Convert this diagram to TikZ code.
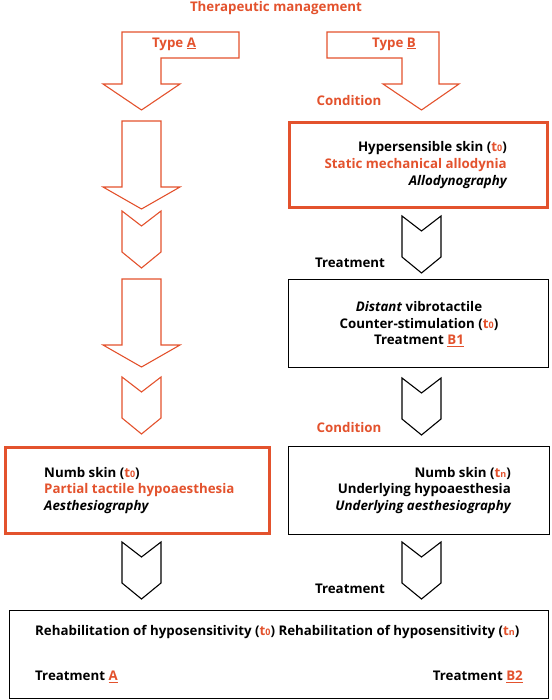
\documentclass[tikz,border=0pt]{standalone}
\usepackage{fontspec}
\setmainfont{Open Sans}
\definecolor{myred}{RGB}{227,82,45}
\newcommand\tz[1]{{\color{myred}t{\fontsize{9}{9}\selectfont #1}}}
\newcommand\ru[1]{{\color{myred}\underline{#1}}}
\newcommand\mychev[3]{%
  \draw[#3] (#1-19.5,#2) -- (#1,#2+15) -- (#1+19.5,#2) -- (#1+19.5,#2+41) -- (#1,#2+57) -- (#1-19.5,#2+41) -- cycle;}
\newcommand\mybig[4]{%
  \draw[#4] (#1-19.5,#2) -- (#1+19.5,#2) -- (#1+19.5,#3) -- (#1+38.5,#3) -- (#1,#3+22) -- (#1-38.5,#3) -- (#1-19.5,#3) -- cycle;}
\begin{document}
\begin{tikzpicture}[x=1pt,y=-1pt,
  redarrow/.style={draw=myred, line width=1.1pt, line join=miter},
  blackarrow/.style={draw=black, line width=1.1pt, line join=miter},
  redbox/.style={draw=myred, line width=3pt, inner sep=0pt},
  blackbox/.style={draw=black, line width=1.4pt, inner sep=0pt},
  txt/.style={font=\fontsize{13.3}{16.8}\selectfont\bfseries, inner sep=0pt},
  lbl/.style={txt, text=myred}]
\useasboundingbox (0,0) rectangle (551,700);

% title and type arrows
\node[lbl] (title) at (276,8) {Therapeutic management};
\draw[redarrow] (122,32) -- (239,32) -- (239,58) -- (161,58) -- (161,84) -- (180,84) -- (141.5,110) -- (103,84) -- (122,84) -- cycle;
\draw[redarrow] (327,32) -- (439,32) -- (439,84) -- (459,84) -- (421.5,110) -- (383,84) -- (402,84) -- (402,58) -- (327,58) -- cycle;
\node[lbl] (typeA) at (174,44) {Type \underline{A}};
\node[lbl] (typeB) at (394,44) {Type \underline{B}};
\node[lbl] (cond1) at (349,101) {Condition};

% boxes
\node[redbox, minimum width=258pt, minimum height=85pt] (hyper) at (418.5,165) {};
\node[blackbox, minimum width=259.6pt, minimum height=87.6pt] (distant) at (418.5,323.5) {};
\node[redbox, minimum width=264pt, minimum height=86pt] (numbA) at (137.5,490.5) {};
\node[blackbox, minimum width=260.6pt, minimum height=87.6pt] (numbB) at (419,490.5) {};
\node[blackbox, minimum width=538.6pt, minimum height=87.6pt] (rehab) at (279,654.5) {};

% box texts
\node[txt, align=right, anchor=east] (hyperT) at (507,165)
  {Hypersensible skin (\tz{0})\\ {\color{myred}Static mechanical allodynia}\\ \itshape Allodynography};
\node[txt, align=center] (distantT) at (419,324)
  {\textit{Distant} vibrotactile\\ Counter-stimulation (\tz{0})\\ Treatment \ru{B1}};
\node[txt, align=left, anchor=west] (numbAT) at (44,490.5)
  {Numb skin (\tz{0})\\ {\color{myred}Partial tactile hypoaesthesia}\\ \itshape Aesthesiography};
\node[txt, align=right, anchor=east] (numbBT) at (511,490.5)
  {Numb skin (\tz{n})\\ Underlying hypoaesthesia\\ \itshape Underlying aesthesiography};
\node[txt, anchor=west] (rehabT) at (35,632)
  {Rehabilitation of hyposensitivity (\tz{0}) Rehabilitation of hyposensitivity (\tz{n})};
\node[txt, anchor=west] (treatA) at (35,677) {Treatment \ru{A}};
\node[txt, anchor=east] (treatB2) at (523,677) {Treatment \ru{B2}};

% side labels
\node[txt] (treat1) at (350,263) {Treatment};
\node[lbl] (cond2) at (349,428) {Condition};
\node[txt] (treat2) at (350,589) {Treatment};

% left column arrows
\mybig{141.5}{121}{187}{redarrow}
\mychev{141.5}{211}{redarrow}
\mybig{141.5}{279}{345}{redarrow}
\mychev{141.5}{377}{redarrow}
\mychev{141.5}{542}{blackarrow}

% right column arrows
\mychev{421.5}{216}{blackarrow}
\mychev{421.5}{378}{blackarrow}
\mychev{421.5}{542}{blackarrow}
\end{tikzpicture}
\end{document}
